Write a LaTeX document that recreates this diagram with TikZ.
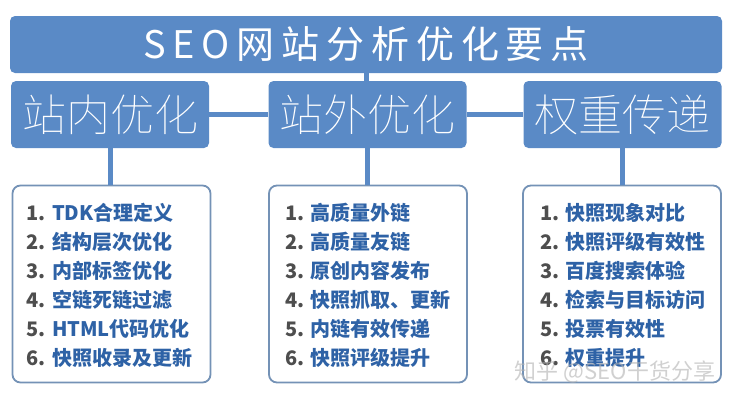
\documentclass[tikz,border=0pt]{standalone}
\usepackage{fontspec}
\usepackage{tikz}
\newfontfamily\cjk{Noto Sans CJK SC}
\newfontfamily\cjkduenn{Noto Sans CJK SC Thin}
\definecolor{kasten}{HTML}{5A8AC6}
\definecolor{rand}{HTML}{7492B6}
\definecolor{schrift}{HTML}{2E62A6}
\definecolor{nummer}{HTML}{4E4E4E}

\tikzset{
	titel/.style={fill=kasten, rounded corners=5pt, text=white, inner sep=0pt},
	bereich/.style={titel, minimum width=198pt, minimum height=67pt, font=\cjkduenn\fontsize{44}{44}\selectfont},
	liste/.style={draw=rand, line width=1.8pt, fill=white, rounded corners=8pt, minimum width=198pt, minimum height=197pt},
	verbindung/.style={draw=kasten, line width=5pt},
	punkt/.style={anchor=west, inner sep=0pt, text=schrift, font=\cjk\bfseries\fontsize{20}{20}\selectfont},
}

\begin{document}
\begin{tikzpicture}[x=1pt,y=-1pt]
		\useasboundingbox (0,0) rectangle (733,402);
		%Überschrift
		\node[titel, minimum width=712pt, minimum height=57pt] (T) at (366,44.5)
		{\cjk\fontsize{38}{38}\selectfont\addfontfeature{LetterSpace=18}SEO网站分析优化要点};
		
		%die drei Bereiche
		\node[bereich] (innen) at (110,114.5) {站内优化};
		\node[bereich] (aussen) at (367.5,114.5) {站外优化};
		\node[bereich] (gewicht) at (622.5,114.5) {权重传递};
		
		%Listen
		\node[liste] (Linnen) at (111.5,284) {};
		\node[liste] (Laussen) at (368,284) {};
		\node[liste] (Lgewicht) at (622,284) {};
		
		\path[verbindung]
		(T.south) edge (T.south |- aussen.north)
		(innen.east) edge (aussen.west)
		(aussen.east) edge (gewicht.west)
		(innen.south) edge (innen.south |- Linnen.north)
		(aussen.south) edge (aussen.south |- Laussen.north)
		(gewicht.south) edge (gewicht.south |- Lgewicht.north);
		
		\foreach \t [count=\i] in {TDK合理定义,结构层次优化,内部标签优化,空链死链过滤,HTML代码优化,快照收录及更新}
		\node[punkt] (a\i) at ([xshift=15pt]Linnen.west |- 0,184+29*\i) {\textcolor{nummer}{\i.} \t};
		
		\foreach \t [count=\i] in {高质量外链,高质量友链,原创内容发布,快照抓取、更新,内链有效传递,快照评级提升}
		\node[punkt] (b\i) at ([xshift=17pt]Laussen.west |- 0,184+29*\i) {\textcolor{nummer}{\i.} \t};
		
		\foreach \t [count=\i] in {快照现象对比,快照评级有效性,百度搜索体验,检索与目标访问,投票有效性,权重提升}
		\node[punkt] (c\i) at ([xshift=18pt]Lgewicht.west |- 0,184+29*\i) {\textcolor{nummer}{\i.} \t};
		
		\node[text=gray!60, opacity=0.6, font=\cjk\fontsize{22}{22}\selectfont] (zeichen) at (615,372) {知乎 @SEO干货分享};
		
\end{tikzpicture}
\end{document}
